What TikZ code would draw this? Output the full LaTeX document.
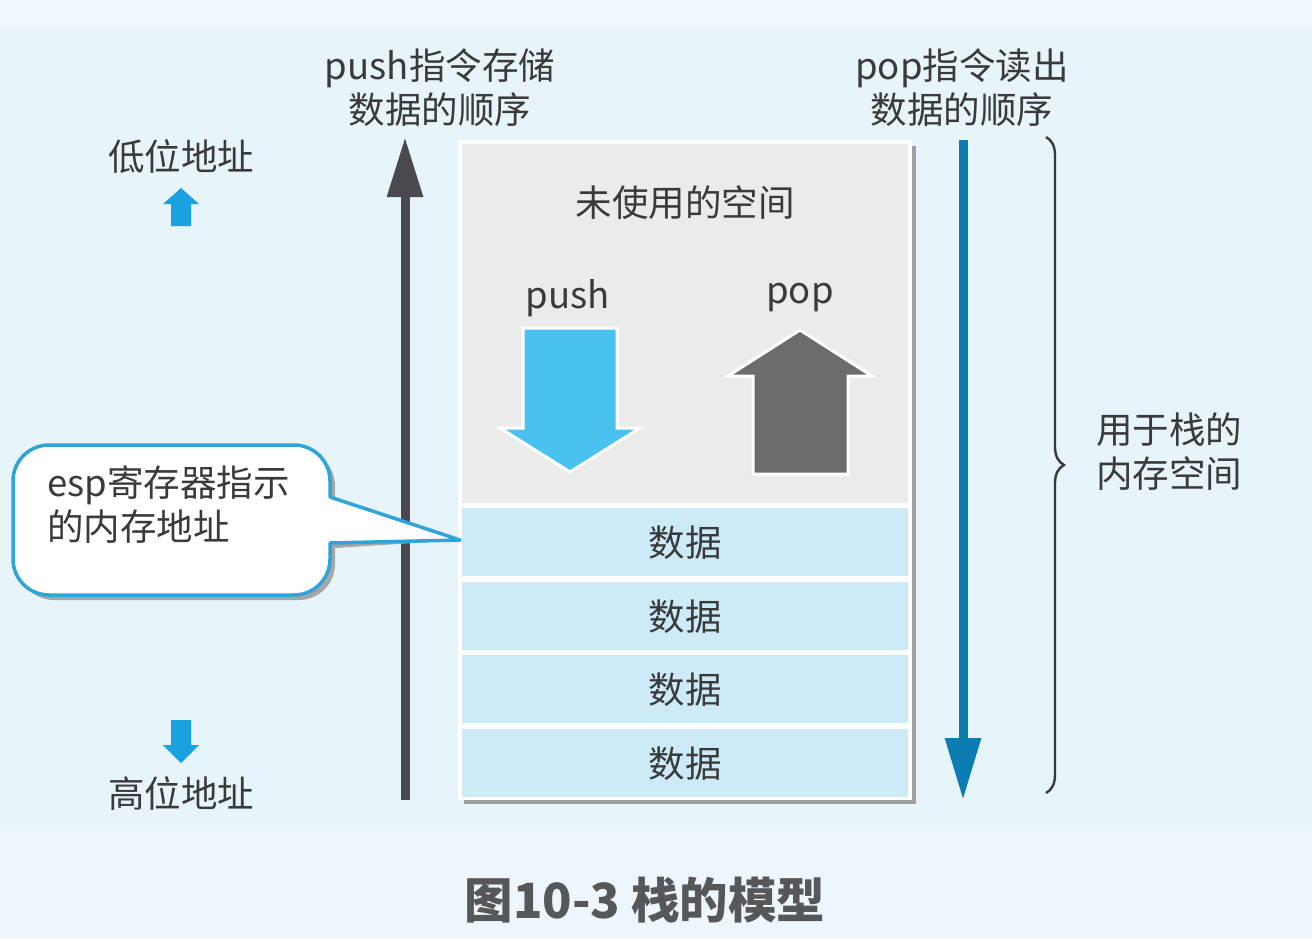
\documentclass[tikz,border=0pt]{standalone}
\usepackage{fontspec}
\setmainfont{Noto Sans CJK SC}
\usetikzlibrary{arrows.meta,decorations.pathreplacing}
\definecolor{bgtop}{HTML}{EFF7FD}
\definecolor{bgmain}{HTML}{E7F4FA}
\definecolor{bgbot}{HTML}{EEF6FD}
\definecolor{textc}{HTML}{3A3A3A}
\definecolor{unused}{HTML}{EBEBEB}
\definecolor{rowc}{HTML}{CDEBF7}
\definecolor{pushc}{HTML}{4AC2F0}
\definecolor{popc}{HTML}{6D6C6D}
\definecolor{darkar}{HTML}{4A4A4E}
\definecolor{bluear}{HTML}{0C7DB3}
\definecolor{smallar}{HTML}{1AA2E0}
\definecolor{callc}{HTML}{2EA4D8}
\definecolor{capc}{HTML}{555758}
\tikzset{
  lbl/.style={font=\fontsize{36.5}{44}\selectfont, text=textc, inner sep=0pt},
  rowbox/.style={fill=rowc, draw=none},
  blockar/.style={draw=white, line width=3pt, line join=miter},
}
\begin{document}
\begin{tikzpicture}[x=1pt,y=-1pt]
\useasboundingbox (0,0) rectangle (1312,938);
% backgrounds
\fill[bgtop] (0,0) rectangle (1312,28);
\fill[bgmain] (0,28) rectangle (1312,830);
\fill[bgbot] (0,830) rectangle (1312,938);

% stack box
\fill[gray!75] (464,146) rectangle (916,804);
\fill[white] (458,140) rectangle (912,800);
\fill[unused] (462,144) rectangle (908,503);
\node[rowbox, minimum width=446pt, minimum height=68pt, anchor=north west] (r1) at (462,508) {};
\node[rowbox, minimum width=446pt, minimum height=68pt, anchor=north west] (r2) at (462,582) {};
\node[rowbox, minimum width=446pt, minimum height=68pt, anchor=north west] (r3) at (462,655) {};
\node[rowbox, minimum width=446pt, minimum height=68pt, anchor=north west] (r4) at (462,729) {};
\node[lbl] (d1) at (r1.center) {数据};
\node[lbl] (d2) at (r2.center) {数据};
\node[lbl] (d3) at (r3.center) {数据};
\node[lbl] (d4) at (r4.center) {数据};

\node[lbl] (unusedlbl) at (685,203) {未使用的空间};
\node[lbl] (pushlbl) at (568,298) {push};
\node[lbl] (poplbl) at (800,298) {pop};

% push block arrow
\filldraw[blockar, fill=pushc] (523,328) -- (617,328) -- (617,428) -- (640,428) -- (570,472) -- (500,428) -- (523,428) -- cycle;
% pop block arrow
\filldraw[blockar, fill=popc] (753,474) -- (848,474) -- (848,376) -- (872,376) -- (800,330) -- (728,376) -- (753,376) -- cycle;

% top labels
\node[lbl, align=center] (pushorder) at (440,88) {push指令存储\\数据的顺序};
\node[lbl, align=center] (poporder) at (962,88) {pop指令读出\\数据的顺序};

% order arrows
\coordinate (pb) at (405,800);
\coordinate (pt) at (405,137);
\draw[darkar, line width=9pt, -{Triangle[width=34pt,length=60pt]}] (pb) -- (pt);
\coordinate (qt) at (963,140);
\coordinate (qb) at (963,800);
\draw[bluear, line width=9pt, -{Triangle[width=34pt,length=62pt]}] (qt) -- (qb);

% brace
\coordinate (bt) at (1046,137);
\coordinate (bb) at (1046,793);
\draw[textc, line width=2.4pt, decorate, decoration={brace, amplitude=18pt}] (bt) -- (bb);
\node[lbl, align=left, anchor=west] (stackmem) at (1096,452) {用于栈的\\内存空间};

% address labels
\node[lbl] (low) at (181,157) {低位地址};
\node[lbl] (high) at (181,793) {高位地址};
\fill[smallar] (181,188) -- (199,204) -- (191,204) -- (191,226) -- (171,226) -- (171,204) -- (163,204) -- cycle;
\fill[smallar] (181,763) -- (199,745) -- (191,745) -- (191,720) -- (171,720) -- (171,745) -- (163,745) -- cycle;

% callout
\coordinate (tip) at (460,540);
\fill[gray!70, shift={(5,5)}] (330,497) [sharp corners] -- (tip) -- (330,543) [rounded corners=36pt] -- (330,595) -- (13,595) -- (13,445) -- (330,445) [sharp corners] -- cycle;
\filldraw[fill=white, draw=callc, line width=3.5pt, line join=round] (330,497) [sharp corners] -- (tip) -- (330,543) [rounded corners=36pt] -- (330,595) -- (13,595) -- (13,445) -- (330,445) [sharp corners] -- cycle;
\node[lbl, align=left, anchor=west] (esp) at (47,505) {esp寄存器指示\\的内存地址};

% caption
\node[font=\fontsize{48.5}{54}\selectfont\bfseries, text=capc, inner sep=0pt] (cap) at (645,900) {图10-3 栈的模型};
\end{tikzpicture}
\end{document}
